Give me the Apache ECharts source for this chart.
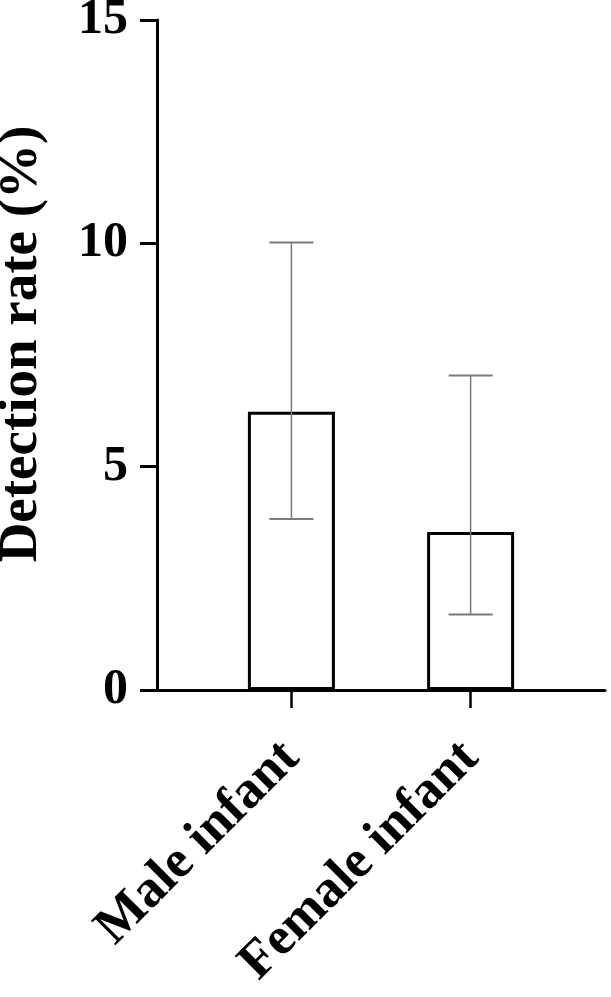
<!DOCTYPE html>
<html>
<head>
    <meta charset="utf-8">
    <script src="https://cdn.jsdelivr.net/npm/echarts@6/dist/echarts.min.js"></script>
    <style>
        html, body { margin: 0; padding: 0; background: #fff; }
    </style>
</head>
<body>
<div id="main" style="width: 611px;height:997px;"></div>
<script type="text/javascript">
    // data
    var categories = ['Male infant', 'Female infant'];
    var rates = [6.23, 3.54];
    var errLow = [3.83, 1.69];
    var errHigh = [10.02, 7.04];
    var yTicks = [0, 5, 10, 15];

    var font = '"Liberation Serif", "Times New Roman", serif';

    // spread the two groups out with empty slots so they sit where the original has them
    var slots = [];
    var barData = [];
    var errData = [];
    slots.push('');
    barData.push(null);
    for (var i = 0; i < categories.length; i++) {
        slots.push(categories[i]);
        barData.push(rates[i]);
        errData.push([slots.length - 1, errLow[i], errHigh[i]]);
        slots.push('');
        barData.push(null);
    }

    var myChart = echarts.init(document.getElementById('main'));

    myChart.setOption({
        animation: false,
        backgroundColor: '#fff',
        grid: {left: 157, right: 6, top: 20, bottom: 307, containLabel: false, outerBoundsMode: 'none'},
        xAxis: {
            type: 'category',
            data: slots,
            axisLine: {lineStyle: {color: '#000', width: 3}},
            axisTick: {
                show: true,
                alignWithLabel: true,
                length: 18,
                lineStyle: {color: '#000', width: 2.5},
                interval: function (idx) { return slots[idx] !== ''; }
            },
            axisLabel: {
                interval: 0,
                rotate: 45,
                margin: 60,
                color: '#000',
                fontFamily: font,
                fontWeight: 'bold',
                fontSize: 53
            }
        },
        yAxis: {
            type: 'value',
            min: yTicks[0],
            max: yTicks[yTicks.length - 1],
            interval: 5,
            name: 'Detection rate (%)',
            nameLocation: 'middle',
            nameGap: 108,
            nameTextStyle: {color: '#000', fontFamily: font, fontWeight: 'bold', fontSize: 55, padding: [0, 0, 0, 22]},
            axisLine: {show: true, lineStyle: {color: '#000', width: 3}},
            axisTick: {show: true, length: 17, lineStyle: {color: '#000', width: 3}},
            axisLabel: {color: '#000', fontFamily: font, fontWeight: 'bold', fontSize: 50, margin: 29},
            splitLine: {show: false}
        },
        series: [
            {
                type: 'bar',
                data: barData,
                barWidth: 87,
                itemStyle: {color: '#fff', borderColor: '#000', borderWidth: 3}
            },
            {
                type: 'custom',
                data: errData,
                z: 10,
                renderItem: function (params, api) {
                    var x = api.value(0);
                    var lo = api.coord([x, api.value(1)]);
                    var hi = api.coord([x, api.value(2)]);
                    var w = 22;
                    var s = {stroke: '#7a7a7a', lineWidth: 2};
                    return {
                        type: 'group',
                        children: [
                            {type: 'line', shape: {x1: lo[0], y1: lo[1], x2: hi[0], y2: hi[1]}, style: {stroke: '#7a7a7a', lineWidth: 1.5}},
                            {type: 'line', shape: {x1: lo[0] - w, y1: lo[1], x2: lo[0] + w, y2: lo[1]}, style: s},
                            {type: 'line', shape: {x1: hi[0] - w, y1: hi[1], x2: hi[0] + w, y2: hi[1]}, style: s}
                        ]
                    };
                }
            }
        ]
    });
</script>
</body>
</html>
